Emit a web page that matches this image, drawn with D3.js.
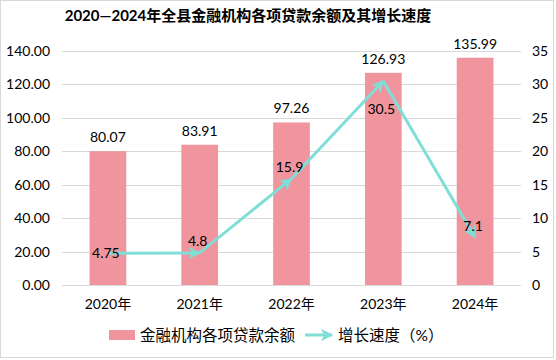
<!DOCTYPE html>
<html><head><meta charset="utf-8">
<script src="https://cdn.jsdelivr.net/npm/d3@7"></script>
<style>
html,body{margin:0;padding:0;background:#fff;}
svg{display:block;}
text{font-family:Lato,"Noto Sans CJK SC",sans-serif;fill:#000;}
</style></head>
<body>
<svg id="c" width="556" height="360"></svg>
<script>
const title = "2020—2024年全县金融机构各项贷款余额及其增长速度";
const categories = ["2020年","2021年","2022年","2023年","2024年"];
const loanBalance = [80.07, 83.91, 97.26, 126.93, 135.99];
const growthRate = [4.75, 4.8, 15.9, 30.5, 7.1];
const leftTicks = [0,20,40,60,80,100,120,140];
const rightTicks = [0,5,10,15,20,25,30,35];
const seriesNames = ["金融机构各项贷款余额","增长速度（%）"];
const growthLabelPlacement = ["center","above","above","below","above"];

const barColor = "#F0959E", lineColor = "#7FDED6", gridColor = "#D9D9D9";
const svg = d3.select("#c");
svg.append("rect").attr("x",0.5).attr("y",0.5).attr("width",553).attr("height",357)
  .attr("fill","#fff").attr("stroke","#D9D9D9");

const x = d3.scaleBand().domain(categories).range([62,521]).paddingInner(0.6).paddingOuter(0.3);
const yL = d3.scaleLinear().domain([0,140]).range([285,51]);
const yR = d3.scaleLinear().domain([0,35]).range([285,51]);

// title
svg.append("text").attr("x",248).attr("y",21).attr("text-anchor","middle")
  .style("font-size","15px").style("font-weight","bold").text(title);

// grid
svg.append("g").selectAll("line").data(leftTicks).join("line")
  .attr("x1",62).attr("x2",521).attr("y1",d=>Math.round(yL(d))+0.5).attr("y2",d=>Math.round(yL(d))+0.5)
  .attr("stroke",gridColor).attr("stroke-width",1);

// left axis
const axL = svg.append("g").attr("transform","translate(62,0)")
  .call(d3.axisLeft(yL).tickValues(leftTicks).tickFormat(d=>d.toFixed(2)).tickSize(0).tickPadding(12));
axL.select(".domain").remove();
axL.selectAll("text").style("font-size","14px").style("font-family","Lato,'Noto Sans CJK SC',sans-serif");

// right axis
const axR = svg.append("g").attr("transform","translate(521,0)")
  .call(d3.axisRight(yR).tickValues(rightTicks).tickSize(0).tickPadding(11));
axR.select(".domain").remove();
axR.selectAll("text").style("font-size","14px").style("font-family","Lato,'Noto Sans CJK SC',sans-serif");

// bottom axis
const axB = svg.append("g").attr("transform","translate(0,285)")
  .call(d3.axisBottom(x).tickSize(0).tickPadding(14));
axB.select(".domain").remove();
axB.selectAll("text").style("font-size","14px").style("font-family","Lato,'Noto Sans CJK SC',sans-serif");

// bars
svg.append("g").selectAll("rect").data(loanBalance).join("rect")
  .attr("x",(d,i)=>x(categories[i])).attr("width",x.bandwidth())
  .attr("y",d=>yL(d)).attr("height",d=>yL(0)-yL(d)).attr("fill",barColor);
svg.append("g").selectAll("text").data(loanBalance).join("text")
  .attr("x",(d,i)=>x(categories[i])+x.bandwidth()/2).attr("y",d=>yL(d)-9)
  .attr("text-anchor","middle").style("font-size","14px").text(d=>d.toFixed(2));

// arrow marker
const defs = svg.append("defs");
defs.append("marker").attr("id","arr").attr("viewBox","0 0 10 10").attr("refX",9).attr("refY",5)
  .attr("markerWidth",4.2).attr("markerHeight",4.2).attr("orient","auto").attr("markerUnits","strokeWidth")
  .append("path").attr("d","M0,0 L10,5 L0,10 L3,5 Z").attr("fill",lineColor);

// line segments
const pts = growthRate.map((v,i)=>[x(categories[i])+x.bandwidth()/2, yR(v)]);
const segs = d3.pairs(pts);
svg.append("g").selectAll("line").data(segs).join("line")
  .attr("x1",d=>d[0][0]).attr("y1",d=>d[0][1]).attr("x2",d=>d[1][0]).attr("y2",d=>d[1][1])
  .attr("stroke",lineColor).attr("stroke-width",3).attr("marker-end","url(#arr)");

// line labels
svg.append("g").selectAll("text").data(growthRate).join("text")
  .attr("x",(d,i)=>pts[i][0]-2)
  .attr("y",(d,i)=>{const p=growthLabelPlacement[i]; return p==="above"?pts[i][1]-7:(p==="below"?pts[i][1]+33:pts[i][1]+5);})
  .attr("text-anchor","middle").style("font-size","14px").text(d=>d);

// legend
const lg = svg.append("g");
lg.append("rect").attr("x",109).attr("y",330).attr("width",26).attr("height",10).attr("fill",barColor);
lg.append("text").attr("x",140).attr("y",340.5).style("font-size","15.5px").text(seriesNames[0]);
lg.append("line").attr("x1",305).attr("x2",332).attr("y1",335).attr("y2",335)
  .attr("stroke",lineColor).attr("stroke-width",3).attr("marker-end","url(#arr)");
lg.append("text").attr("x",338).attr("y",340.5).style("font-size","15.5px").text(seriesNames[1]);
</script>
</body></html>
